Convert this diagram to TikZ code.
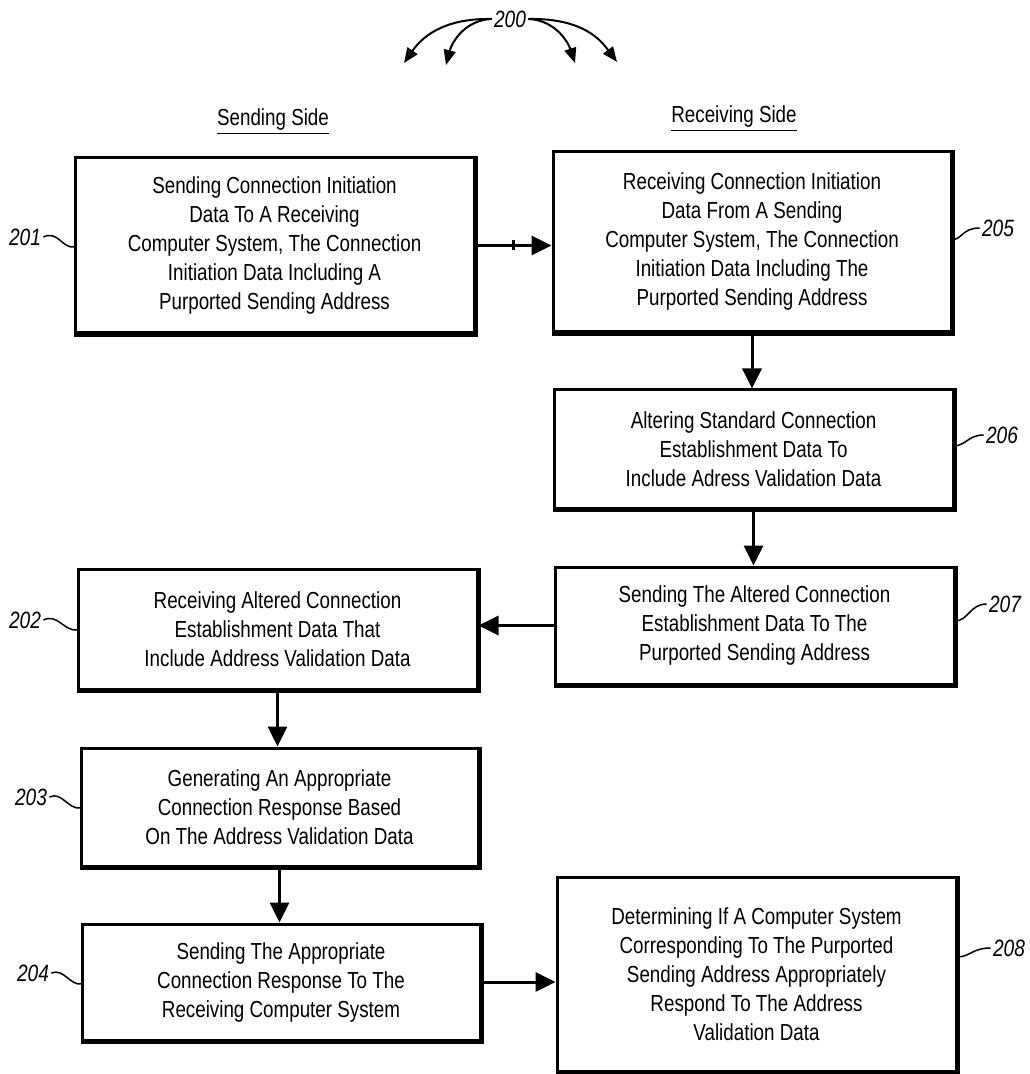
\documentclass[tikz,border=0pt]{standalone}
\usepackage{fontspec}
\setmainfont{Liberation Sans}[FakeStretch=0.81]
\usetikzlibrary{arrows.meta}
\newlength{\du}
\setlength{\du}{0.5pt}
\tikzset{
  diabox/.style={draw, rectangle, line width=3\du, inner sep=0pt, align=center,
    font=\fontsize{11.6}{14.5}\selectfont},
  dianum/.style={inner sep=1pt, font=\fontsize{11.8}{14}\selectfont\itshape},
  diahead/.style={inner sep=0pt, font=\fontsize{11.6}{14}\selectfont},
  dialine/.style={line width=3\du, -{Triangle[length=10pt,width=9.5pt]}},
  diacurve/.style={line width=2\du, -{Triangle[length=7.5pt,width=6pt]}},
  dialead/.style={line width=1.5\du},
}
\begin{document}
\begin{tikzpicture}
\pgftransformxscale{1.000000}
\pgftransformyscale{-1.000000}
\definecolor{dialinecolor}{rgb}{0.000000, 0.000000, 0.000000}
\pgfsetstrokecolor{dialinecolor}
\useasboundingbox (0\du,0\du) rectangle (1029\du,1074\du);
% setfont left to latex
\node[dianum] (l200) at (510\du,19\du){200};
\coordinate (h1) at (404\du,63\du);
\coordinate (h2) at (446\du,65\du);
\coordinate (h3) at (575\du,63\du);
\coordinate (h4) at (617\du,62\du);
\draw[diacurve] (l200.west) .. controls (440\du,18\du) and (420\du,40\du) .. (h1);
\draw[diacurve] (l200.west) .. controls (465\du,20\du) and (452\du,42\du) .. (h2);
\draw[diacurve] (l200.east) .. controls (555\du,20\du) and (568\du,42\du) .. (h3);
\draw[diacurve] (l200.east) .. controls (585\du,18\du) and (602\du,42\du) .. (h4);
% setfont left to latex
\node[diahead] (sendside) at (273\du,122\du){\underline{Sending Side}};
\node[diahead] (recvside) at (734\du,119\du){\underline{Receiving Side}};
% sending side
\node[diabox, minimum width=399\du, minimum height=175\du] (b201) at (274.5\du,245.5\du){Sending Connection Initiation\\Data To A Receiving\\Computer System, The Connection\\Initiation Data Including A\\Purported Sending Address};
\node[diabox, minimum width=399\du, minimum height=120\du] (b202) at (277.5\du,629\du){Receiving Altered Connection\\Establishment Data That\\Include Address Validation Data};
\node[diabox, minimum width=397\du, minimum height=118\du] (b203) at (279.5\du,807\du){Generating An Appropriate\\Connection Response Based\\On The Address Validation Data};
\node[diabox, minimum width=398\du, minimum height=116\du] (b204) at (281\du,982\du){Sending The Appropriate\\Connection Response To The\\Receiving Computer System};
% receiving side
\node[diabox, minimum width=398\du, minimum height=180\du] (b205) at (752\du,242\du){Receiving Connection Initiation\\Data From A Sending\\Computer System, The Connection\\Initiation Data Including The\\Purported Sending Address};
\node[diabox, minimum width=399\du, minimum height=118\du] (b206) at (753.5\du,449\du){Altering Standard Connection\\Establishment Data To\\Include Adress Validation Data};
\node[diabox, minimum width=399\du, minimum height=117\du] (b207) at (754.5\du,625.5\du){Sending The Altered Connection\\Establishment Data To The\\Purported Sending Address};
\node[diabox, minimum width=399\du, minimum height=194\du] (b208) at (756.5\du,974\du){Determining If A Computer System\\Corresponding To The Purported\\Sending Address Appropriately\\Respond To The Address\\Validation Data};
\foreach \b in {b201,b202,b203,b204,b205,b206,b207,b208}
  \draw[line width=5\du] (\b.north east) -- (\b.south east) -- (\b.south west);
% connectors
\draw[dialine] (b201.east) -- coordinate[pos=0.5] (tick) (b201.east -| b205.west);
\draw[line width=3\du] (tick) ++(0,-5\du) -- ++(0,10\du);
\draw[dialine] (b205.south) -- (b205.south |- b206.north);
\draw[dialine] (b206.south) -- (b206.south |- b207.north);
\draw[dialine] (b207.west) -- (b207.west -| b202.east);
\draw[dialine] (b202.south) -- (b202.south |- b203.north);
\draw[dialine] (b203.south) -- (b203.south |- b204.north);
\draw[dialine] (b204.east) -- (b204.east -| b208.west);
% reference numbers
\node[dianum] (l201) at (25\du,237\du){201};
\node[dianum] (l202) at (25\du,620\du){202};
\node[dianum] (l203) at (31\du,797\du){203};
\node[dianum] (l204) at (33\du,973\du){204};
\node[dianum] (l205) at (998\du,228\du){205};
\node[dianum] (l206) at (1002\du,435\du){206};
\node[dianum] (l207) at (1005\du,604\du){207};
\node[dianum] (l208) at (1009\du,948\du){208};
\coordinate (t201) at (75\du,247\du);
\coordinate (t202) at (78\du,630\du);
\coordinate (t203) at (81\du,808\du);
\coordinate (t204) at (82\du,984\du);
\coordinate (t205) at (951\du,240\du);
\coordinate (t206) at (953\du,446\du);
\coordinate (t207) at (955\du,621\du);
\coordinate (t208) at (957\du,957\du);
\draw[dialead] (l201.east) .. controls (58\du,230\du) and (62\du,249\du) .. (t201);
\draw[dialead] (l202.east) .. controls (58\du,613\du) and (64\du,632\du) .. (t202);
\draw[dialead] (l203.east) .. controls (62\du,791\du) and (68\du,810\du) .. (t203);
\draw[dialead] (l204.east) .. controls (64\du,968\du) and (70\du,986\du) .. (t204);
\draw[dialead] (t205) .. controls (962\du,240\du) and (962\du,228\du) .. (l205.west);
\draw[dialead] (t206) .. controls (966\du,446\du) and (968\du,435\du) .. (l206.west);
\draw[dialead] (t207) .. controls (968\du,621\du) and (970\du,604\du) .. (l207.west);
\draw[dialead] (t208) .. controls (970\du,957\du) and (972\du,948\du) .. (l208.west);
\end{tikzpicture}
\end{document}
